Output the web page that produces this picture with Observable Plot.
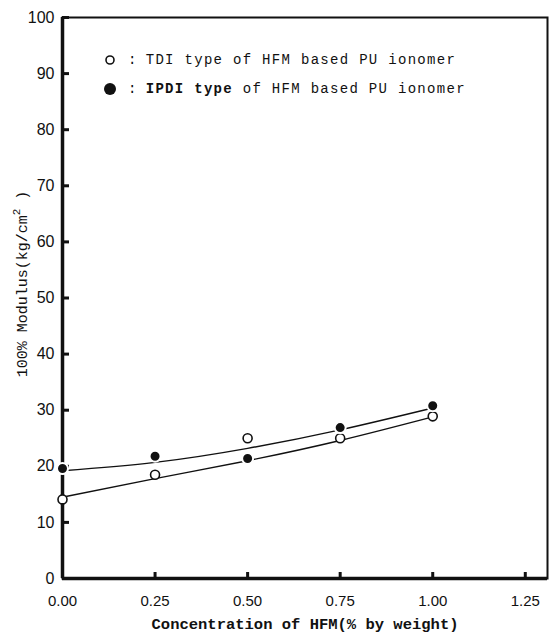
<!DOCTYPE html>
<html>
<head>
<meta charset="utf-8">
<script src="https://cdn.jsdelivr.net/npm/d3@7"></script>
<script src="https://cdn.jsdelivr.net/npm/@observablehq/plot@0.6"></script>
<style>
  html, body { margin: 0; padding: 0; background: #fff; }
  #wrap { position: relative; width: 549px; height: 634px; }
  #legend { position: absolute; left: 102px; top: 45px; font-family: "Liberation Mono", "DejaVu Sans Mono", monospace; font-size: 14px; letter-spacing: 1.3px; color: #111; }
  #legend .row { display: flex; align-items: center; height: 29px; }
  #legend .sym { width: 16px; display: inline-flex; justify-content: center; }
  #legend .colon { margin-left: 10px; margin-right: 8px; }
  #legend .b { font-weight: bold; }
</style>
</head>
<body>
<div id="wrap">
  <div id="chart"></div>
  <div id="legend">
    <div class="row"><span class="sym"><svg width="12" height="12"><circle cx="6" cy="6" r="4" fill="#fff" stroke="#111" stroke-width="1.6"/></svg></span><span class="colon">:</span><span>TDI type of HFM based PU ionomer</span></div>
    <div class="row"><span class="sym"><svg width="14" height="14"><circle cx="7" cy="7" r="6" fill="#111"/></svg></span><span class="colon">:</span><span><span class="b">IPDI type</span> of HFM based PU ionomer</span></div>
  </div>
</div>
<script>
// Data
const conc = [0, 0.25, 0.5, 0.75, 1.0];
const tdi = [14.1, 18.5, 25.0, 25.0, 28.9];
const ipdi = [19.6, 21.8, 21.4, 26.9, 30.8];
const tdiFit = [14.5, 17.8, 21.0, 24.6, 28.8];
const ipdiFit = [19.2, 20.7, 23.2, 26.5, 30.4];
const xTicks = [0, 0.25, 0.5, 0.75, 1.0, 1.25];
const yTicks = [0, 10, 20, 30, 40, 50, 60, 70, 80, 90, 100];

const tdiData = conc.map((x, i) => ({x, y: tdi[i]}));
const ipdiData = conc.map((x, i) => ({x, y: ipdi[i]}));
const tdiFitData = conc.map((x, i) => ({x, y: tdiFit[i]}));
const ipdiFitData = conc.map((x, i) => ({x, y: ipdiFit[i]}));

const ink = "#111";
const chart = Plot.plot({
  width: 549,
  height: 634,
  marginLeft: 62,
  marginRight: 2,
  marginTop: 17,
  marginBottom: 56,
  x: {domain: [0, 1.31]},
  y: {domain: [0, 100]},
  style: {fontFamily: "'Liberation Sans', Arial, sans-serif", color: ink, background: "#fff"},
  marks: [
    Plot.frame({stroke: ink, strokeWidth: 2}),
    Plot.ruleX([0], {stroke: ink, strokeWidth: 3.5}),
    Plot.ruleY([0], {stroke: ink, strokeWidth: 3.5}),
    // inward ticks
    Plot.axisX({ticks: xTicks, tickSize: -6, strokeWidth: 3, tickFormat: () => "", label: null}),
    Plot.axisY({ticks: yTicks, tickSize: -7, strokeWidth: 3, tickFormat: () => "", label: null}),
    // tick labels
    Plot.axisX({ticks: xTicks, tickSize: 0, tickPadding: 17, tickFormat: d3.format(".2f"), fontSize: 15, label: null}),
    Plot.axisY({ticks: yTicks, tickSize: 0, tickPadding: 8, tickFormat: d => String(d), fontSize: 16, label: null}),
    // fitted lines
    Plot.line(tdiFitData, {x: "x", y: "y", curve: "natural", stroke: ink, strokeWidth: 1.4}),
    Plot.line(ipdiFitData, {x: "x", y: "y", curve: "natural", stroke: ink, strokeWidth: 1.4}),
    // points
    Plot.dot(tdiData, {x: "x", y: "y", r: 4.5, fill: "#fff", stroke: ink, strokeWidth: 1.6}),
    Plot.dot(ipdiData, {x: "x", y: "y", r: 5.5, fill: ink, stroke: "#fff", strokeWidth: 2}),
    // axis title
    Plot.axisX({ticks: [], label: "Concentration of HFM(% by weight)", labelAnchor: "center", labelArrow: "none", labelOffset: 50, fontSize: 15.5, fontFamily: "'Liberation Mono', monospace", fontWeight: "bold"}),
  ]
});
document.getElementById("chart").appendChild(chart);

// y axis title with superscript
const svg = d3.select(chart);
const t = svg.append("text")
  .attr("transform", `translate(27,284) rotate(-90)`)
  .attr("text-anchor", "middle")
  .attr("font-family", "'Liberation Mono', monospace")
  .attr("font-size", 15)
  .attr("fill", ink);
t.append("tspan").text("100% Modulus(kg/cm");
t.append("tspan").attr("dy", -7).attr("font-size", 11).text("2");
t.append("tspan").attr("dy", 7).text(" )");
</script>
</body>
</html>
